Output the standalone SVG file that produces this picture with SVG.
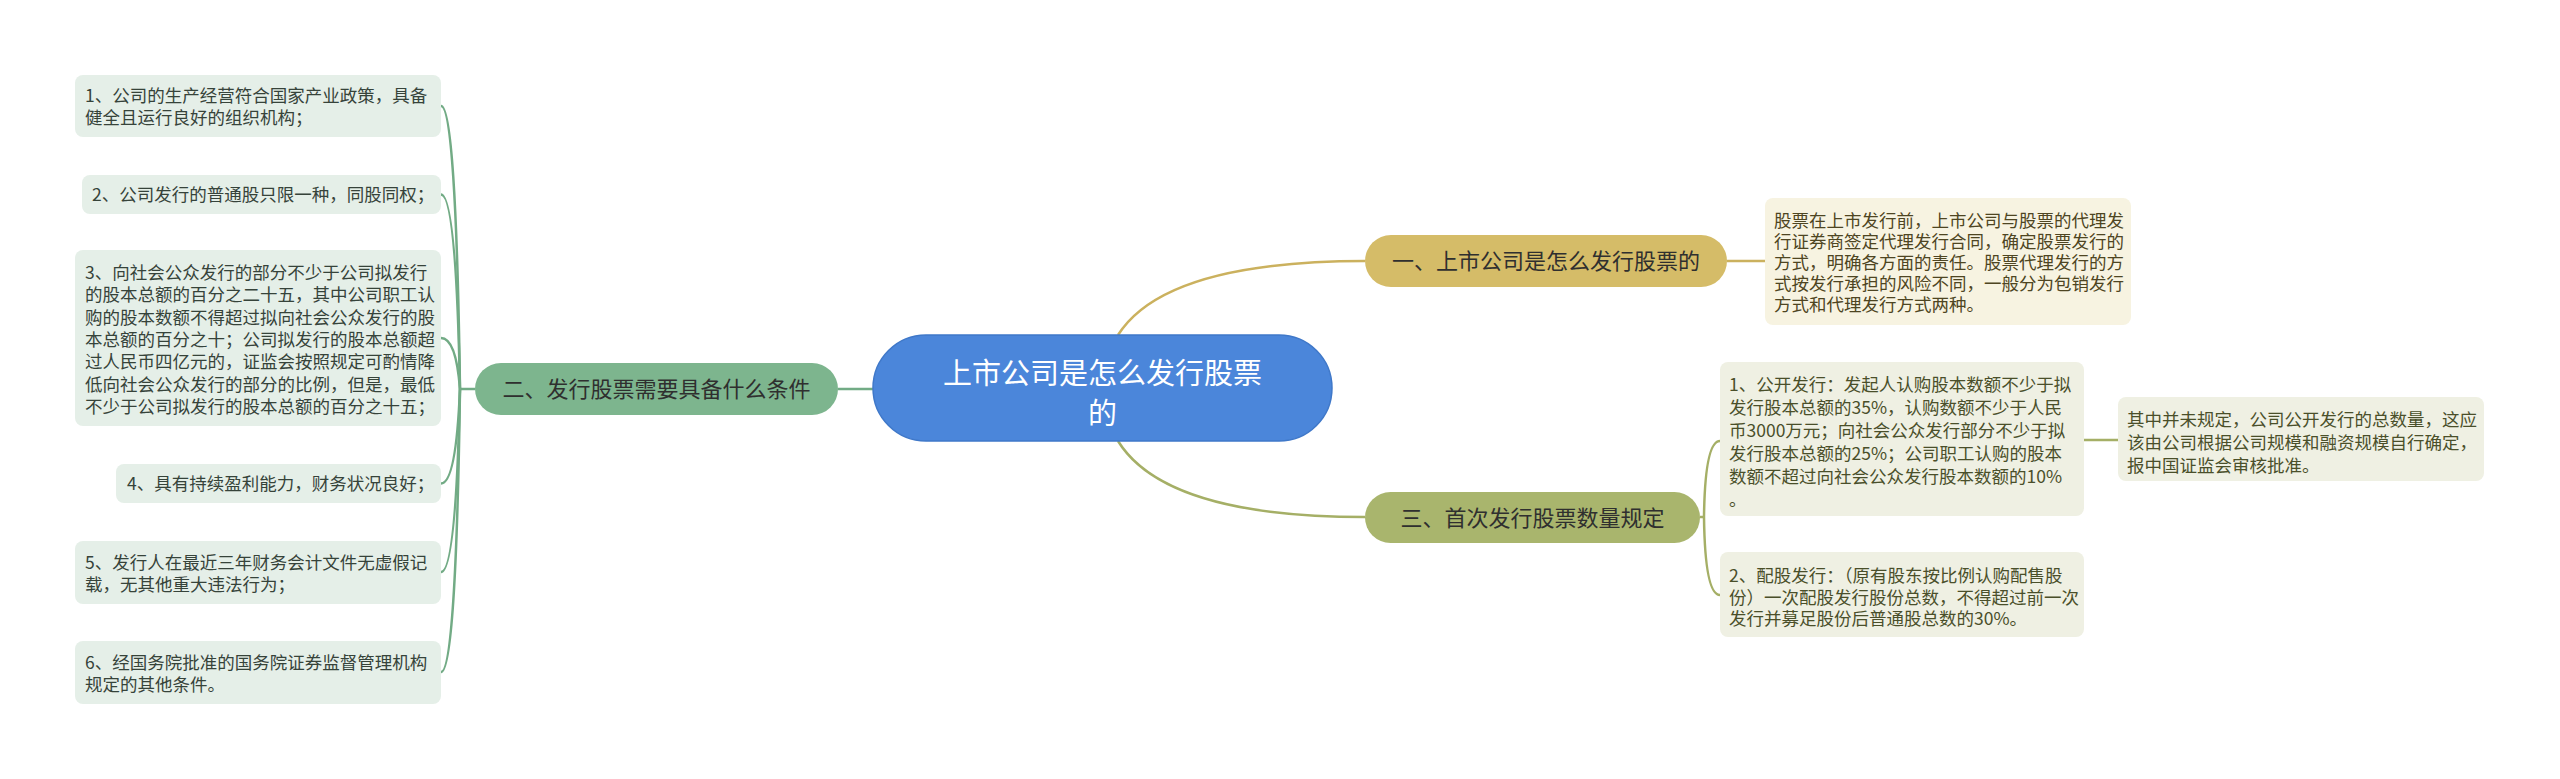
<svg xmlns="http://www.w3.org/2000/svg" width="2560" height="779" viewBox="0 0 2560 779">
<style>
text{font-family:"Noto Sans CJK SC","Noto Sans",sans-serif}
.lf{fill:#e5efe8}
.lt{font-size:17.5px;fill:#36433a}
.gf{fill:#f7f3e1}
.gt{font-size:17.5px;fill:#4e4522}
.of{fill:#eff0e3}
.ot{font-size:17.5px;fill:#4a4f2a}
.bt{font-size:22px;fill:#2f2f2f;text-anchor:middle}
.cg{fill:none;stroke:#72ab85;stroke-width:2.5}
.cy{fill:none;stroke:#cbb15e;stroke-width:2.5}
.co{fill:none;stroke:#a5af66;stroke-width:2.5}
</style>
<rect width="2560" height="779" fill="#ffffff"/>
<g id="connectors">
<path class="cg" d="M838 389H873"/>
<path class="cg" d="M475 389H460"/>
<path class="cg" d="M460 389Q456 106 441 106"/>
<path class="cg" d="M460 389Q456 194.5 441 194.5"/>
<path class="cg" d="M460 389Q456 338 441 338"/>
<path class="cg" d="M460 389Q456 483.5 441 483.5"/>
<path class="cg" d="M460 389Q456 572 441 572"/>
<path class="cg" d="M460 389Q456 672 441 672"/>
<path class="cy" d="M1118 335Q1165 261 1365 261"/>
<path class="cy" d="M1727 261H1765"/>
<path class="co" d="M1118 441Q1165 517 1365 517"/>
<path class="co" d="M1700 517H1704"/>
<path class="co" d="M1704 517Q1705 441 1720 441"/>
<path class="co" d="M1704 517Q1705 595 1720 595"/>
<path class="co" d="M2084 440H2118"/>
</g>
<g id="root">
<rect x="873" y="335" width="459" height="106" rx="53" fill="#4b86da" stroke="#3f78c9" stroke-width="1.5"/>
<text x="1102.5" y="383.5" font-size="29" fill="#ffffff" text-anchor="middle">上市公司是怎么发行股票</text>
<text x="1102.5" y="423.5" font-size="29" fill="#ffffff" text-anchor="middle">的</text>
</g>
<g id="b2">
<rect x="475" y="363" width="363" height="52" rx="26" fill="#7db58e"/>
<text class="bt" x="656.5" y="397">二、发行股票需要具备什么条件</text>
</g>
<g id="b1">
<rect x="1365" y="235" width="362" height="52" rx="26" fill="#d5bc68"/>
<text class="bt" x="1546" y="269">一、上市公司是怎么发行股票的</text>
</g>
<g id="b3">
<rect x="1365" y="492" width="335" height="51" rx="25.5" fill="#a9b56d"/>
<text class="bt" x="1532.5" y="525.5">三、首次发行股票数量规定</text>
</g>
<g id="l1">
<rect class="lf" x="75" y="75" width="366" height="62" rx="8"/>
<text class="lt" x="85" y="102">1、公司的生产经营符合国家产业政策，具备</text>
<text class="lt" x="85" y="124">健全且运行良好的组织机构；</text>
</g>
<g id="l2">
<rect class="lf" x="82" y="175" width="359" height="39" rx="8"/>
<text class="lt" x="92" y="201">2、公司发行的普通股只限一种，同股同权；</text>
</g>
<g id="l3">
<rect class="lf" x="75" y="250" width="366" height="176" rx="8"/>
<text class="lt" x="85" y="279">3、向社会公众发行的部分不少于公司拟发行</text>
<text class="lt" x="85" y="301.3">的股本总额的百分之二十五，其中公司职工认</text>
<text class="lt" x="85" y="323.6">购的股本数额不得超过拟向社会公众发行的股</text>
<text class="lt" x="85" y="345.9">本总额的百分之十；公司拟发行的股本总额超</text>
<text class="lt" x="85" y="368.2">过人民币四亿元的，证监会按照规定可酌情降</text>
<text class="lt" x="85" y="390.5">低向社会公众发行的部分的比例，但是，最低</text>
<text class="lt" x="85" y="412.8">不少于公司拟发行的股本总额的百分之十五；</text>
</g>
<g id="l4">
<rect class="lf" x="116" y="464" width="325" height="39" rx="8"/>
<text class="lt" x="127" y="490">4、具有持续盈利能力，财务状况良好；</text>
</g>
<g id="l5">
<rect class="lf" x="75" y="541" width="366" height="63" rx="8"/>
<text class="lt" x="85" y="569">5、发行人在最近三年财务会计文件无虚假记</text>
<text class="lt" x="85" y="591">载，无其他重大违法行为；</text>
</g>
<g id="l6">
<rect class="lf" x="75" y="641" width="366" height="63" rx="8"/>
<text class="lt" x="85" y="668.5">6、经国务院批准的国务院证券监督管理机构</text>
<text class="lt" x="85" y="690.5">规定的其他条件。</text>
</g>
<g id="r1">
<rect class="gf" x="1765" y="198" width="366" height="127" rx="8"/>
<text class="gt" x="1774" y="227">股票在上市发行前，上市公司与股票的代理发</text>
<text class="gt" x="1774" y="248">行证券商签定代理发行合同，确定股票发行的</text>
<text class="gt" x="1774" y="269">方式，明确各方面的责任。股票代理发行的方</text>
<text class="gt" x="1774" y="290">式按发行承担的风险不同，一般分为包销发行</text>
<text class="gt" x="1774" y="311">方式和代理发行方式两种。</text>
</g>
<g id="r3a">
<rect class="of" x="1720" y="362" width="364" height="154" rx="8"/>
<text class="ot" x="1729" y="391">1、公开发行：发起人认购股本数额不少于拟</text>
<text class="ot" x="1729" y="414">发行股本总额的35%，认购数额不少于人民</text>
<text class="ot" x="1729" y="437">币3000万元；向社会公众发行部分不少于拟</text>
<text class="ot" x="1729" y="460">发行股本总额的25%；公司职工认购的股本</text>
<text class="ot" x="1729" y="483">数额不超过向社会公众发行股本数额的10%</text>
<text class="ot" x="1729" y="506">。</text>
</g>
<g id="r3b">
<rect class="of" x="1720" y="552" width="364" height="85" rx="8"/>
<text class="ot" x="1729" y="582">2、配股发行：（原有股东按比例认购配售股</text>
<text class="ot" x="1729" y="603.5">份）一次配股发行股份总数，不得超过前一次</text>
<text class="ot" x="1729" y="625">发行并募足股份后普通股总数的30%。</text>
</g>
<g id="r3a1">
<rect class="of" x="2118" y="397" width="366" height="84" rx="8"/>
<text class="ot" x="2127" y="425.5">其中并未规定，公司公开发行的总数量，这应</text>
<text class="ot" x="2127" y="448.5">该由公司根据公司规模和融资规模自行确定，</text>
<text class="ot" x="2127" y="471.5">报中国证监会审核批准。</text>
</g>
</svg>
